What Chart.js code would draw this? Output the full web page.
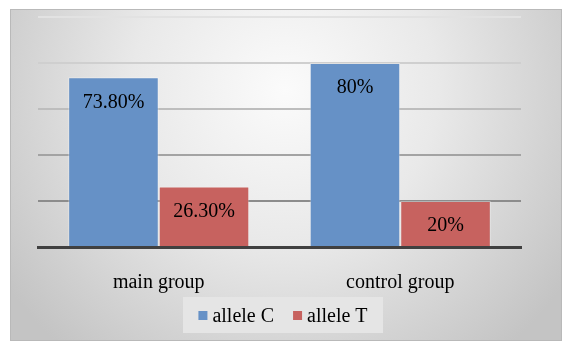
<!DOCTYPE html>
<html>
<head>
<meta charset="utf-8">
<script src="https://cdn.jsdelivr.net/npm/chart.js@4/dist/chart.umd.min.js"></script>
<style>
html,body{margin:0;padding:0;background:#fff;}
#wrap{width:569px;height:357px;position:relative;}
</style>
</head>
<body>
<div id="wrap"><canvas id="c" width="569" height="357"></canvas></div>
<script>
const categories = ["main group", "control group"];
const seriesNames = ["allele C", "allele T"];
const alleleC = [73.8, 80];
const alleleT = [26.3, 20];
const valueLabels = [["73.80%", "80%"], ["26.30%", "20%"]];
const colors = ["#6691c6", "#c7625f"];
const yTicks = [0, 20, 40, 60, 80, 100];

const SERIF = '"Liberation Serif"';

const panelPlugin = {
  id: 'panel',
  beforeDraw(chart) {
    const ctx = chart.ctx;
    ctx.save();
    ctx.fillStyle = '#ffffff';
    ctx.fillRect(0, 0, chart.width, chart.height);
    const x = 10, y = 9, w = 552, h = 332;
    const g = ctx.createRadialGradient(285, 90, 0, 285, 90, 340);
    g.addColorStop(0, '#fbfbfb');
    g.addColorStop(0.45, '#e9e9e9');
    g.addColorStop(1, '#c4c4c4');
    ctx.fillStyle = g;
    ctx.fillRect(x, y, w, h);
    ctx.strokeStyle = '#b9b9b9';
    ctx.lineWidth = 1;
    ctx.strokeRect(x + 0.5, y + 0.5, w - 1, h - 1);
    ctx.restore();
  }
};

const labelPlugin = {
  id: 'vlabels',
  afterDatasetsDraw(chart) {
    const ctx = chart.ctx;
    ctx.save();
    ctx.font = '20px ' + SERIF;
    ctx.fillStyle = '#000';
    ctx.textAlign = 'center';
    ctx.textBaseline = 'middle';
    chart.data.datasets.forEach((ds, di) => {
      const meta = chart.getDatasetMeta(di);
      meta.data.forEach((bar, i) => {
        ctx.fillText(valueLabels[di][i], bar.x, bar.y + 25);
      });
    });
    ctx.restore();
  }
};

const legendPlugin = {
  id: 'customLegend',
  afterDraw(chart) {
    const ctx = chart.ctx;
    ctx.save();
    ctx.font = '20px ' + SERIF;
    const box = 9, gapText = 5, gapItem = 19;
    const widths = seriesNames.map(n => ctx.measureText(n).width);
    const total = widths.reduce((a, w) => a + box + gapText + w, 0) + gapItem * (seriesNames.length - 1);
    const cx = 283;
    const bx = 183, by = 297, bw = 200, bh = 36;
    ctx.fillStyle = '#e5e5e5';
    ctx.fillRect(bx, by, bw, bh);
    let x = cx - total / 2;
    const yc = 316;
    ctx.textBaseline = 'middle';
    ctx.textAlign = 'left';
    seriesNames.forEach((n, i) => {
      ctx.fillStyle = colors[i];
      ctx.fillRect(x, yc - 5, box, box);
      x += box + gapText;
      ctx.fillStyle = '#000';
      ctx.fillText(n, x, yc + 1);
      x += widths[i] + gapItem;
    });
    ctx.restore();
  }
};

const gridColors = {100: '#e2e2e2', 80: '#cfcfcf', 60: '#bdbdbd', 40: '#a3a3a3', 20: '#8c8c8c', 0: '#404040'};

new Chart(document.getElementById('c'), {
  type: 'bar',
  data: {
    labels: categories,
    datasets: [
      { label: seriesNames[0], data: alleleC, backgroundColor: colors[0], borderColor: 'rgba(255,255,255,0.35)', borderWidth: 1 },
      { label: seriesNames[1], data: alleleT, backgroundColor: colors[1], borderColor: 'rgba(255,255,255,0.35)', borderWidth: 1 }
    ]
  },
  options: {
    responsive: false,
    animation: false,
    devicePixelRatio: 1,
    layout: { padding: { left: 38, right: 48, top: 17, bottom: 38 } },
    datasets: { bar: { categoryPercentage: 0.75, barPercentage: 1.0 } },
    plugins: { legend: { display: false }, tooltip: { enabled: false } },
    scales: {
      x: {
        grid: { display: false, drawTicks: false },
        border: { display: true, color: '#404040', width: 3 },
        ticks: { color: '#000', font: { family: SERIF, size: 20 }, padding: 24 }
      },
      y: {
        min: 0, max: 100,
        afterBuildTicks(scale) { scale.ticks = yTicks.map(v => ({ value: v })); },
        grid: {
          drawTicks: false,
          lineWidth: 2,
          color: (c) => gridColors[c.tick ? c.tick.value : 0] || '#bbbbbb'
        },
        border: { display: false },
        ticks: { display: false }
      }
    }
  },
  plugins: [panelPlugin, labelPlugin, legendPlugin]
});
</script>
</body>
</html>
